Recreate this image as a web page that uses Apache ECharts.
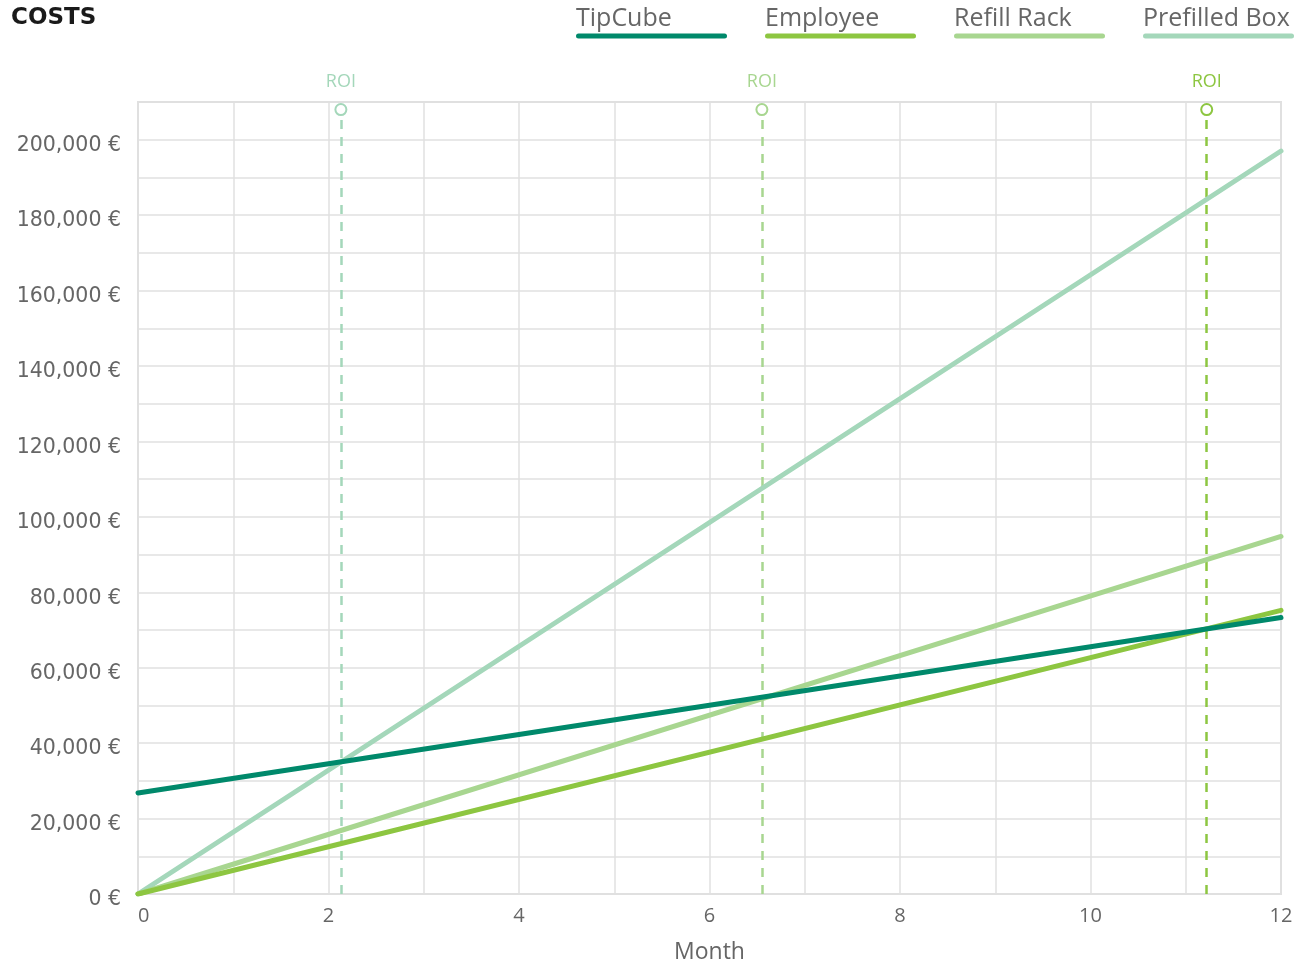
<!DOCTYPE html>
<html>
<head>
<meta charset="utf-8">
<script src="https://cdn.jsdelivr.net/npm/echarts@6/dist/echarts.min.js"></script>
<style>
html,body{margin:0;padding:0;background:#fff;}
#chart{width:1313px;height:966px;}
</style>
</head>
<body>
<div id="chart"></div>
<script>
// ---- data ----
const seriesNames = ['TipCube', 'Employee', 'Refill Rack', 'Prefilled Box'];
const seriesColors = ['#00896b', '#8dc641', '#a8d690', '#a4d7ba'];
const months = [0, 12];
const tipCube = [26800, 73300];
const employee = [0, 75200];
const refillRack = [0, 94800];
const prefilledBox = [0, 197000];
const roiMonths = [2.13, 6.55, 11.22];      // break-even months
const roiSeries = ['Prefilled Box', 'Refill Rack', 'Employee'];
const roiTop = 208000;
const yTicks = [0, 20000, 40000, 60000, 80000, 100000, 120000, 140000, 160000, 180000, 200000];
const xTicks = [0, 2, 4, 6, 8, 10, 12];

const values = [tipCube, employee, refillRack, prefilledBox];
const FONT = 'Open Sans';

const rich = { t: { fontSize: 25, color: '#666', fontFamily: FONT, lineHeight: 30 } };
seriesColors.forEach((c, i) => {
  rich['l' + i] = { backgroundColor: c, width: 151, height: 5, borderRadius: 3, lineHeight: 5 };
});

const series = seriesNames.map((name, i) => {
  const s = {
    name: name,
    type: 'line',
    data: months.map((m, k) => [m, values[i][k]]),
    showSymbol: false,
    symbol: 'none',
    lineStyle: { color: seriesColors[i], width: 5, cap: 'round' },
    itemStyle: { color: seriesColors[i] },
    z: 10 - i
  };
  const ri = roiSeries.indexOf(name);
  if (ri >= 0) {
    const mx = roiMonths[ri];
    s.markLine = {
      silent: true,
      animation: false,
      symbol: ['none', 'emptyCircle'],
      symbolSize: 11,
      lineStyle: { color: seriesColors[i], width: 2.5, type: [9, 8] },
      label: { show: true, position: 'end', formatter: 'ROI', color: seriesColors[i], fontSize: 18, fontFamily: FONT, distance: 19 },
      data: [[{ coord: [mx, 0] }, { coord: [mx, roiTop] }]]
    };
  }
  return s;
});

const chart = echarts.init(document.getElementById('chart'));
chart.setOption({
  animation: false,
  title: {
    text: 'COSTS', left: 6, top: 2,
    textStyle: { fontFamily: 'DejaVu Sans', fontWeight: 'bold', fontSize: 23, color: '#1a1a1a' }
  },
  legend: {
    data: seriesNames,
    left: 566, top: 1,
    icon: 'none',
    itemWidth: 0, itemHeight: 0,
    itemGap: 33,
    formatter: function (name) {
      const i = seriesNames.indexOf(name);
      return '{t|' + name + '}\n{l' + i + '|}';
    },
    textStyle: { rich: rich }
  },
  grid: { left: 138, right: 32, top: 102, bottom: 72, show: true, borderColor: '#e0e0e0', borderWidth: 2, outerBoundsMode: 'none', containLabel: false },
  xAxis: {
    type: 'value', min: 0, max: 12, interval: 1,
    name: 'Month', nameLocation: 'middle', nameGap: 47,
    nameTextStyle: { fontSize: 23, color: '#666', fontFamily: FONT },
    axisLine: { show: false },
    axisTick: { show: false },
    splitLine: { lineStyle: { color: '#e0e0e0', width: 1.5 } },
    axisLabel: {
      fontSize: 20, color: '#666', fontFamily: FONT, margin: 12,
      formatter: v => xTicks.indexOf(v) >= 0 ? String(v) : '',
      alignMinLabel: 'left'
    }
  },
  yAxis: {
    type: 'value', min: 0, max: 210000, interval: 10000,
    axisLine: { show: false },
    axisTick: { show: false },
    splitLine: { lineStyle: { color: '#e0e0e0', width: 1.5 } },
    axisLabel: {
      fontSize: 20.5, color: '#666', fontFamily: 'DejaVu Sans', margin: 17,
      verticalAlign: 'top', lineHeight: 12,
      formatter: v => yTicks.indexOf(v) >= 0 ? v.toLocaleString('en-US') + ' €' : ''
    }
  },
  series: series
});
</script>
</body>
</html>
